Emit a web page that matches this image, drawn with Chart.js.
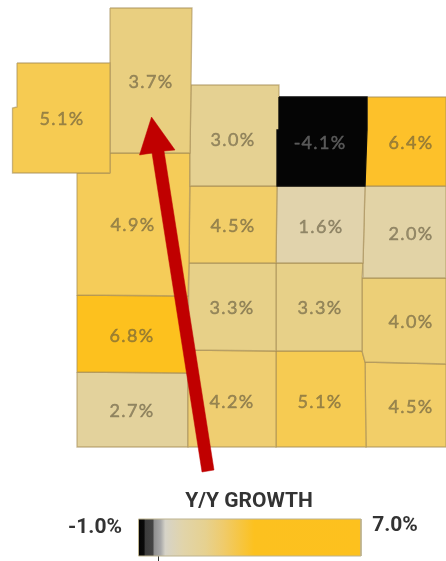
<!DOCTYPE html>
<html lang="en">
<head>
<meta charset="UTF-8">
<title>Y/Y Growth</title>
<style>
    html, body { margin: 0; padding: 0; background: #fff; }
    #box { width: 446px; height: 561px; }
    canvas { filter: blur(0.55px); }
</style>
</head>
<body>
<div id="box"><canvas id="growthMap" width="446" height="561"></canvas></div>
<script src="https://cdn.jsdelivr.net/npm/chart.js"></script>
<script>
    // values, one per cell
    const growth = [5.1, 3.7, 3.0, -4.1, 6.4, 4.9, 4.5, 1.6, 2.0, 3.3, 3.3, 4.0, 6.8, 4.2, 5.1, 4.5, 2.7];
    const legendTitle = 'Y/Y GROWTH';
    const legendTicks = ['-1.0%', '7.0%'];

    // cell outlines and label anchors, in picture units
    const outlines = [
        [[17,63],[110,63],[110,173],[12.5,173],[12.5,108],[17,107]],
        [[110,8],[192,8],[191,85],[190,153],[110,153]],
        [[191,85],[279,85],[279,130],[277,186],[190,186],[190,153]],
        [[279,97],[367,97],[367,130],[365,186],[277,186],[277,130],[279,130]],
        [[367,97],[446,97],[446,186],[365,186],[365,130],[367,130]],
        [[110,173],[110,153],[190,153],[189,263],[188,296],[77,295],[77,173]],
        [[190,186],[277,186],[276,263],[189,263]],
        [[277,186],[365,186],[363,263],[276,263]],
        [[365,186],[446,186],[446,278],[363,278],[363,263]],
        [[189,263],[276,263],[276,351],[188,350]],
        [[276,263],[363,263],[362,278],[362,351],[276,351]],
        [[362,278],[446,278],[446,364],[365,362],[362,351]],
        [[77,295],[188,296],[188,373],[77,372]],
        [[188,350],[276,351],[276,447],[188,447]],
        [[276,351],[362,351],[365,362],[366,447],[276,447]],
        [[365,362],[446,364],[446,447],[366,447]],
        [[77,372],[188,373],[188,447],[77,447]]
    ];
    const labelX = [62, 151, 233, 320, 411, 133, 233, 321, 411, 232, 320, 411, 132, 232, 320, 411, 132];
    const labelY = [119, 82, 140, 143, 143, 225, 226, 227, 234, 308, 308, 322, 336, 402, 402, 407, 411];

    const arrowShape = [[151.5,117],[175,150],[164,151],[214,470],[202,472],[152,153],[139.5,155]];
    const legendBar = [[138.5,519],[361,519],[361,556],[138.5,556]];
    const legendTick = [[158.5,556],[158.5,561]];

    // map colour ramp, [value, r, g, b]
    const ramp = [
        [-1.0, 5, 5, 5], [1.6, 225, 211, 172], [2.7, 227, 210, 156], [3.3, 231, 208, 136],
        [3.7, 233, 207, 128], [4.5, 242, 206, 104], [5.1, 246, 203, 82], [6.4, 253, 193, 42], [6.8, 253, 193, 30]
    ];

    function colorFor(v) {
        if (v <= ramp[0][0]) return 'rgb(5,5,5)';
        for (let i = 1; i < ramp.length; i++) {
            if (v <= ramp[i][0]) {
                const a = ramp[i - 1], b = ramp[i];
                const t = (v - a[0]) / (b[0] - a[0]);
                const c = [1, 2, 3].map(k => Math.round(a[k] + (b[k] - a[k]) * t));
                return `rgb(${c[0]},${c[1]},${c[2]})`;
            }
        }
        return 'rgb(253,193,30)';
    }

    const toPoints = pts => pts.concat([pts[0]]).map(p => ({ x: p[0], y: p[1] }));

    const ctx = document.getElementById('growthMap').getContext('2d');

    // legend gradient, runs along the bar
    const barGradient = ctx.createLinearGradient(138.5, 0, 361, 0);
    barGradient.addColorStop(0, '#050505');
    barGradient.addColorStop(0.025, '#0a0a0a');
    barGradient.addColorStop(0.03, '#3c3c3c');
    barGradient.addColorStop(0.065, '#444444');
    barGradient.addColorStop(0.07, '#8f8f8f');
    barGradient.addColorStop(0.1, '#a8a8a8');
    barGradient.addColorStop(0.12, '#d6d3c8');
    barGradient.addColorStop(0.2, '#e1d4aa');
    barGradient.addColorStop(0.3, '#e6d190');
    barGradient.addColorStop(0.38, '#efcb6c');
    barGradient.addColorStop(0.52, '#fcc11f');
    barGradient.addColorStop(1, '#fdc11e');

    const cellSets = outlines.map((pts, i) => ({
        data: toPoints(pts),
        showLine: true,
        fill: 'shape',
        backgroundColor: colorFor(growth[i]),
        borderColor: growth[i] < -1 ? '#0a0a0a' : 'rgba(165,140,85,0.6)',
        borderWidth: 1.3,
        pointRadius: 0,
        order: growth[i] < -1 ? 2 : 3
    }));

    const overlaySets = [
        { data: toPoints(arrowShape), showLine: true, fill: 'shape', backgroundColor: '#c00000', borderColor: '#c00000', borderWidth: 0.5, pointRadius: 0, order: 0 },
        { data: toPoints(legendBar), showLine: true, fill: 'shape', backgroundColor: barGradient, borderColor: '#bdb38f', borderWidth: 1, pointRadius: 0, order: 1 },
        { data: toPoints(legendTick).slice(0, 2), showLine: true, borderColor: '#333', borderWidth: 1, pointRadius: 0, order: 1 }
    ];

    const textPlugin = {
        id: 'textPlugin',
        afterDatasetsDraw(chart) {
            const c = chart.ctx, sx = chart.scales.x, sy = chart.scales.y;
            c.save();
            c.textAlign = 'center';
            c.textBaseline = 'middle';
            c.font = '18px Lato';
            c.letterSpacing = '1.3px';
            c.lineWidth = 0.5;
            growth.forEach((v, i) => {
                const col = v < -1 ? '#5a5a5a' : 'rgba(95,85,60,0.55)';
                const tx = sx.getPixelForValue(labelX[i]), ty = sy.getPixelForValue(labelY[i]);
                c.fillStyle = col;
                c.strokeStyle = col;
                c.fillText(v.toFixed(1) + '%', tx, ty);
                c.strokeText(v.toFixed(1) + '%', tx, ty); // the labels read heavier than plain Lato
            });
            c.letterSpacing = '0px';
            c.fillStyle = '#333';
            c.font = 'bold 21px "Liberation Sans Narrow", Roboto';
            c.fillText(legendTitle, sx.getPixelForValue(249), sy.getPixelForValue(502));
            c.font = 'bold 21px Roboto';
            c.fillText(legendTicks[0], sx.getPixelForValue(95), sy.getPixelForValue(528));
            c.fillText(legendTicks[1], sx.getPixelForValue(395), sy.getPixelForValue(526));
            c.restore();
        }
    };

    new Chart(ctx, {
        type: 'scatter',
        data: { datasets: cellSets.concat(overlaySets) },
        plugins: [textPlugin],
        options: {
            responsive: false,
            animation: false,
            layout: { padding: 0 },
            elements: { line: { tension: 0 } },
            plugins: { legend: { display: false }, tooltip: { enabled: false } },
            scales: {
                x: { type: 'linear', min: 0, max: 446, display: false },
                y: { type: 'linear', min: 0, max: 561, reverse: true, display: false }
            }
        }
    });
</script>
</body>
</html>
